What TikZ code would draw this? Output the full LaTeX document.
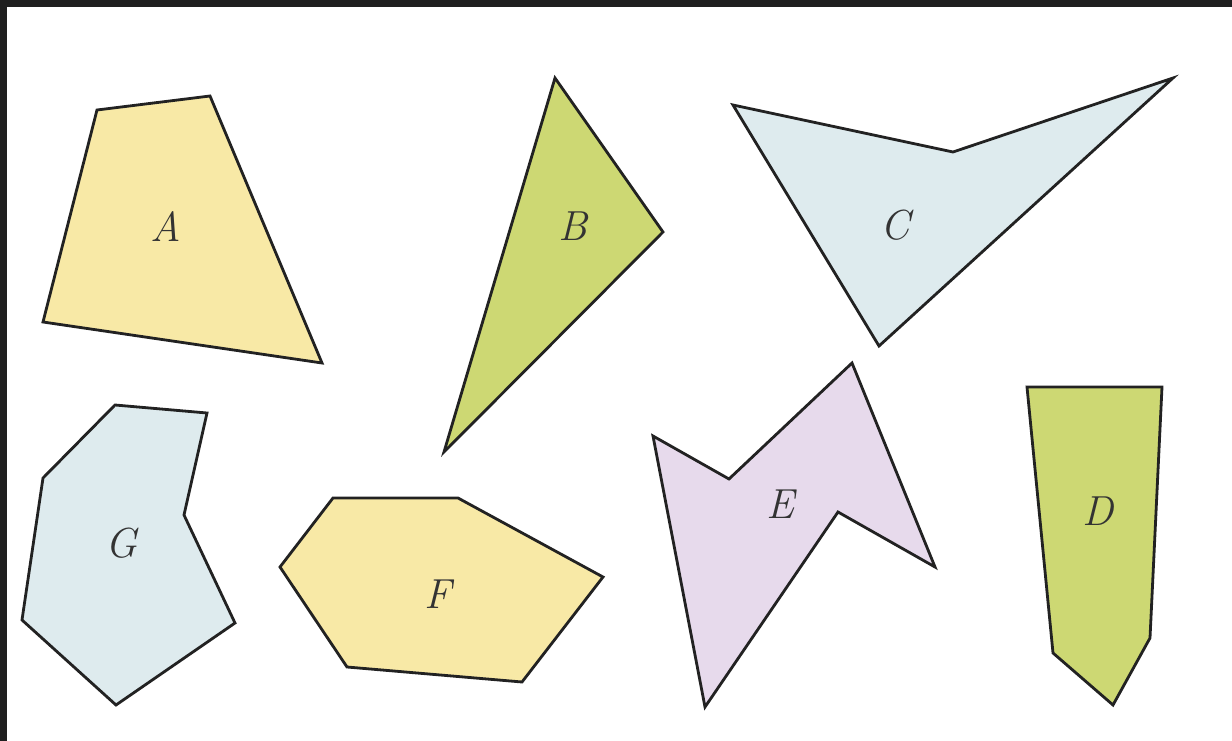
\documentclass[tikz,border=0pt]{standalone}
\usepackage{tikz}
\definecolor{frame}{HTML}{1F1F1F}
\definecolor{yel}{HTML}{F8E9A6}
\definecolor{grn}{HTML}{CDD873}
\definecolor{blu}{HTML}{DEEBEE}
\definecolor{lav}{HTML}{E7DAEC}
\definecolor{edge}{HTML}{222222}
\definecolor{lbl}{HTML}{333333}
\tikzset{
  poly/.style={draw=edge,line width=2.8pt,line join=miter},
  lab/.style={text=lbl,font=\fontsize{42}{42}\selectfont\itshape,inner sep=0pt}
}
\begin{document}
\begin{tikzpicture}[x=1pt,y=-1pt]
\useasboundingbox (0,0) rectangle (1232,741);
\fill[white] (0,0) rectangle (1232,741);
\fill[frame] (0,0) rectangle (1232,7);
\fill[frame] (0,0) rectangle (7,741);
% A
\filldraw[poly,fill=yel] (97,110) -- (210,96) -- (322,363) -- (43,322) -- cycle;
\node[lab] (la) at (166,227) {A};
% B
\filldraw[poly,fill=grn] (555,78) -- (663,232) -- (444,452) -- cycle;
\node[lab] (lb) at (573,226) {B};
% C
\filldraw[poly,fill=blu] (733,105) -- (953,152) -- (1173,78) -- (879,346) -- cycle;
\node[lab] (lc) at (895,225) {C};
% D
\filldraw[poly,fill=grn] (1027,387) -- (1162,387) -- (1150,638) -- (1113,705) -- (1053,653) -- cycle;
\node[lab] (ld) at (1098,511) {D};
% E
\filldraw[poly,fill=lav] (653,436) -- (729,479) -- (852,363) -- (935,567) -- (838,512) -- (705,707) -- cycle;
\node[lab] (le) at (780,504) {E};
% F
\filldraw[poly,fill=yel] (333,498) -- (458,498) -- (603,577) -- (522,682) -- (347,667) -- (280,567) -- cycle;
\node[lab] (lf) at (438,594) {F};
% G
\filldraw[poly,fill=blu] (115,405) -- (207,413) -- (184,515) -- (235,623) -- (116,705) -- (22,620) -- (43,478) -- cycle;
\node[lab] (lg) at (121,543) {G};
\end{tikzpicture}
\end{document}
